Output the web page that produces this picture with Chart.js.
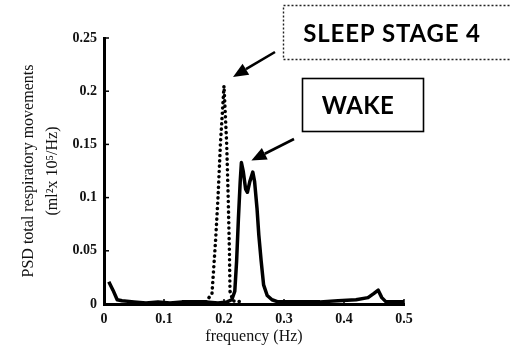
<!DOCTYPE html>
<html>
<head>
<meta charset="utf-8">
<script src="https://cdn.jsdelivr.net/npm/chart.js@4/dist/chart.umd.min.js"></script>
<style>
  html, body { margin: 0; padding: 0; background: #fff; }
  #wrap { width: 510px; height: 355px; position: relative; }
</style>
</head>
<body>
<div id="wrap"><canvas id="c" width="510" height="355"></canvas></div>
<script>
// Respiratory power spectrum, wake vs. sleep stage 4
const wakeFreq = [0.008, 0.015, 0.022, 0.03, 0.05, 0.07, 0.09, 0.11, 0.13, 0.15, 0.17, 0.19, 0.205,
  0.213, 0.218, 0.221, 0.224, 0.227, 0.229, 0.232, 0.236, 0.239, 0.243, 0.248, 0.251, 0.255, 0.258,
  0.262, 0.266, 0.272, 0.28, 0.29, 0.31, 0.33, 0.36, 0.39, 0.42, 0.44, 0.45, 0.457, 0.463, 0.47, 0.5];
const wakePsd = [0.021, 0.013, 0.004, 0.003, 0.002, 0.001, 0.002, 0.001, 0.002, 0.002, 0.002, 0.001, 0.002,
  0.004, 0.012, 0.04, 0.08, 0.115, 0.133, 0.125, 0.108, 0.105, 0.115, 0.124, 0.115, 0.09, 0.065,
  0.04, 0.018, 0.008, 0.004, 0.002, 0.002, 0.002, 0.002, 0.003, 0.004, 0.006, 0.01, 0.013, 0.006, 0.002, 0.002];

const sleepFreq = [0.17, 0.18, 0.186, 0.19, 0.194, 0.2, 0.2045, 0.207, 0.209, 0.21, 0.215, 0.23];
const sleepPsd  = [0.002, 0.01, 0.06, 0.1, 0.15, 0.205, 0.15, 0.1, 0.05, 0.012, 0.003, 0.002];

const xTicks = [0, 0.1, 0.2, 0.3, 0.4, 0.5];
const yTicks = [0, 0.05, 0.1, 0.15, 0.2, 0.25];

const toPoints = (xs, ys) => xs.map((x, i) => ({ x: x, y: ys[i] }));
const fmt = v => String(+(+v).toFixed(2));
const serif = "'Liberation Serif', 'DejaVu Serif', serif";

// short tick marks pointing into the plot
const innerTicks = {
  id: 'innerTicks',
  afterDatasetsDraw(chart) {
    const { ctx, scales: { x, y } } = chart;
    ctx.save();
    ctx.strokeStyle = '#000';
    ctx.lineWidth = 1.5;
    xTicks.forEach(v => {
      const px = x.getPixelForValue(v);
      ctx.beginPath(); ctx.moveTo(px, y.bottom); ctx.lineTo(px, y.bottom - 5); ctx.stroke();
    });
    yTicks.forEach(v => {
      const py = y.getPixelForValue(v);
      ctx.beginPath(); ctx.moveTo(x.left, py); ctx.lineTo(x.left + 5, py); ctx.stroke();
    });
    ctx.restore();
  }
};

function arrow(ctx, x1, y1, x2, y2) {
  const ang = Math.atan2(y2 - y1, x2 - x1);
  const head = 15, half = 6.5;
  const bx = x2 - head * Math.cos(ang), by = y2 - head * Math.sin(ang);
  ctx.beginPath();
  ctx.moveTo(x1, y1); ctx.lineTo(bx, by);
  ctx.lineWidth = 2.6; ctx.strokeStyle = '#000'; ctx.stroke();
  ctx.beginPath();
  ctx.moveTo(x2, y2);
  ctx.lineTo(bx + half * Math.sin(ang), by - half * Math.cos(ang));
  ctx.lineTo(bx - half * Math.sin(ang), by + half * Math.cos(ang));
  ctx.closePath(); ctx.fillStyle = '#000'; ctx.fill();
}

// labelled boxes with arrows pointing at each peak
const callouts = {
  id: 'callouts',
  afterDraw(chart) {
    const { ctx, scales: { x, y } } = chart;
    ctx.save();
    ctx.font = "bold 24px Lato, 'Open Sans', sans-serif";
    ctx.fillStyle = '#000';
    ctx.textAlign = 'center'; ctx.textBaseline = 'middle';

    // sleep stage 4
    ctx.setLineDash([2, 2]);
    ctx.lineWidth = 1.4; ctx.strokeStyle = '#222';
    ctx.strokeRect(283.5, 5.5, 240, 54);
    ctx.setLineDash([]);
    ctx.letterSpacing = '0.8px';
    ctx.fillText('SLEEP STAGE 4', 392, 34);
    ctx.letterSpacing = '0.4px';

    // wake
    ctx.lineWidth = 1.6; ctx.strokeStyle = '#000';
    ctx.strokeRect(302.5, 78.5, 121, 53);
    ctx.fillText('WAKE', 358, 106);
    ctx.letterSpacing = '0px';

    const iS = sleepPsd.indexOf(Math.max(...sleepPsd));
    const iW = wakePsd.indexOf(Math.max(...wakePsd));
    arrow(ctx, 275, 52, x.getPixelForValue(sleepFreq[iS]) + 9, y.getPixelForValue(sleepPsd[iS]) - 9);
    arrow(ctx, 294, 139, x.getPixelForValue(wakeFreq[iW]) + 10, y.getPixelForValue(wakePsd[iW]) - 2);
    ctx.restore();
  }
};

new Chart(document.getElementById('c'), {
  type: 'line',
  data: {
    datasets: [
      {
        label: 'Sleep stage 4',
        data: toPoints(sleepFreq, sleepPsd),
        borderColor: '#000',
        borderWidth: 3.5,
        borderDash: [0.1, 5.2],
        borderCapStyle: 'round',
        pointRadius: 0,
        tension: 0,
        fill: false
      },
      {
        label: 'Wake',
        data: toPoints(wakeFreq, wakePsd),
        borderColor: '#000',
        borderWidth: 3.5,
        borderJoinStyle: 'round',
        pointRadius: 0,
        tension: 0,
        fill: false
      }
    ]
  },
  options: {
    responsive: false,
    animation: false,
    devicePixelRatio: 1,
    layout: { padding: { left: 0, right: 106, top: 38, bottom: 0 } },
    plugins: { legend: { display: false }, tooltip: { enabled: false } },
    scales: {
      x: {
        type: 'linear',
        min: 0, max: 0.5,
        afterFit(s) { s.height = 51; },
        afterBuildTicks(s) { s.ticks = xTicks.map(v => ({ value: v })); },
        grid: { display: false, drawTicks: false },
        border: { display: true, color: '#000', width: 3 },
        ticks: {
          padding: 7,
          color: '#111',
          font: { family: serif, size: 14, weight: 'bold' },
          callback: v => fmt(v),
          maxRotation: 0
        },
        title: {
          display: true,
          text: 'frequency (Hz)',
          color: '#111',
          font: { family: serif, size: 16 },
          padding: { top: 0, bottom: 9 }
        }
      },
      y: {
        type: 'linear',
        min: 0, max: 0.25,
        afterFit(s) { s.width = 104; },
        afterBuildTicks(s) { s.ticks = yTicks.map(v => ({ value: v })); },
        grid: { display: false, drawTicks: false },
        border: { display: true, color: '#000', width: 3 },
        ticks: {
          padding: 7,
          color: '#111',
          font: { family: serif, size: 14, weight: 'bold' },
          callback: v => fmt(v)
        },
        title: {
          display: true,
          text: ['PSD total respiratory movements', '(ml\u00B2x 10\u2075/Hz)'],
          color: '#111',
          font: { family: serif, size: 16, lineHeight: 1.55 },
          padding: { top: 16, bottom: 0 }
        }
      }
    }
  },
  plugins: [innerTicks, callouts]
});
</script>
</body>
</html>
